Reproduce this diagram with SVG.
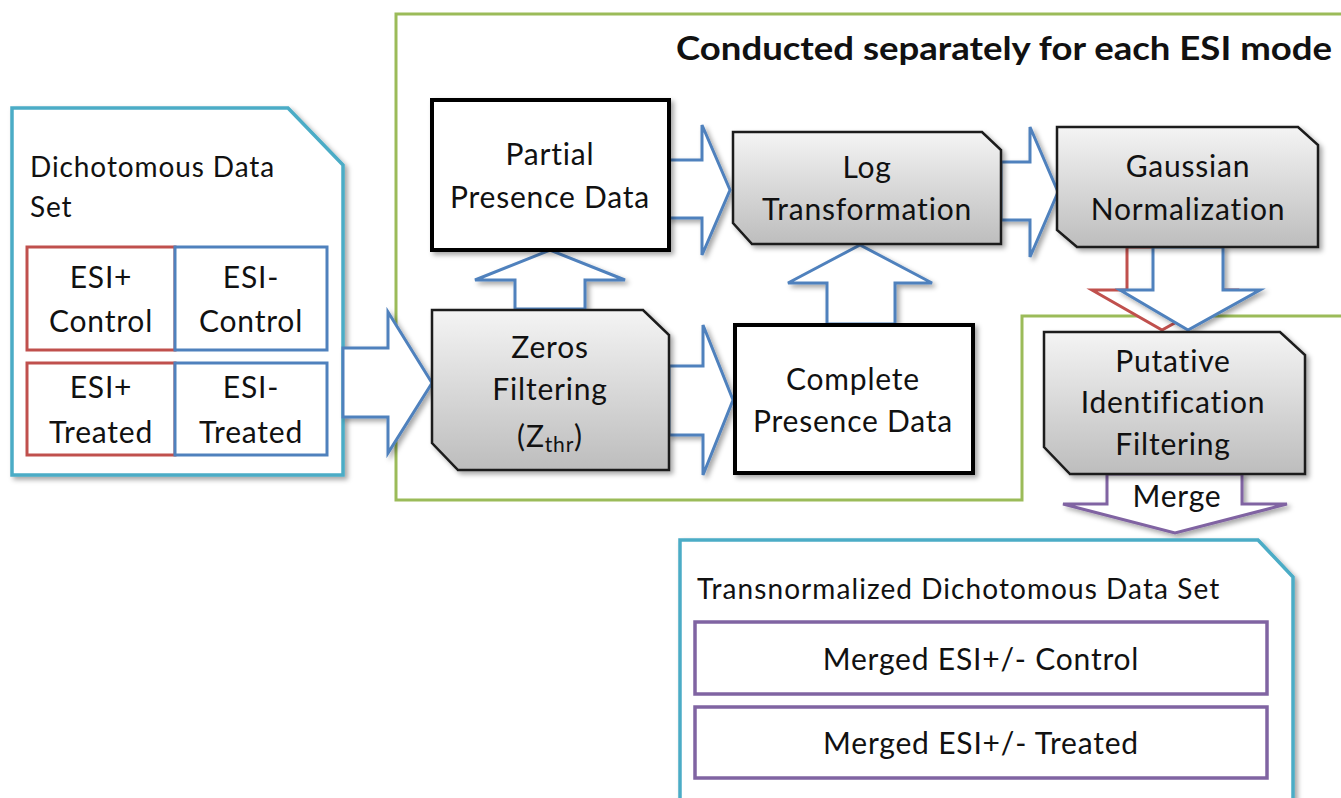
<svg xmlns="http://www.w3.org/2000/svg" width="1341" height="798" viewBox="0 0 1341 798">
<defs>
<linearGradient id="gray" x1="0" y1="0" x2="0" y2="1">
<stop offset="0" stop-color="#F4F4F4"/>
<stop offset="1" stop-color="#BDBDBD"/>
</linearGradient>
<filter id="sh" x="-10%" y="-10%" width="130%" height="130%">
<feDropShadow dx="3" dy="3" stdDeviation="2.5" flood-color="#000" flood-opacity="0.35"/>
</filter>
<style>
text{font-family:Lato,"Open Sans","Liberation Sans",sans-serif;fill:#111;}
.t{font-size:30px;letter-spacing:0.8px;text-anchor:middle;}
.l{font-size:28px;letter-spacing:0.8px;}
.g{fill:url(#gray);stroke:#1a1a1a;stroke-width:2.5;filter:url(#sh);}
.w{fill:#fff;stroke:#000;stroke-width:4;filter:url(#sh);}
.doc{fill:#fff;stroke:#4BACC6;stroke-width:3.5;filter:url(#sh);}
.ba{fill:#fff;stroke:#4F81BD;stroke-width:3;filter:url(#sh);}
.ra{fill:#fff;stroke:#C0504D;stroke-width:3;}
.pa{fill:#fff;stroke:#8064A2;stroke-width:3;filter:url(#sh);}
.rb{fill:#fff;stroke:#C0504D;stroke-width:3;}
.bb{fill:#fff;stroke:#4F81BD;stroke-width:3;}
.pb{fill:#fff;stroke:#8064A2;stroke-width:3.5;}
</style>
</defs>
<rect width="1341" height="798" fill="#fff"/>

<g id="region">
<path d="M1345,14 H396 V500 H1022 V316 H1345" fill="none" stroke="#9BBB59" stroke-width="3"/>
<text x="676" y="60" font-size="32" font-weight="bold" textLength="656" lengthAdjust="spacingAndGlyphs">Conducted separately for each ESI mode</text>
</g>

<g id="dataset">
<path class="doc" d="M12,108 H288 L343,165 V475 H12 Z"/>
<text class="l" x="30" y="177" textLength="245">Dichotomous Data</text>
<text class="l" x="30" y="217">Set</text>
<rect class="rb" x="27" y="247" width="148" height="103"/>
<rect class="bb" x="175" y="247" width="152" height="103"/>
<rect class="rb" x="27" y="363" width="148" height="92"/>
<rect class="bb" x="175" y="363" width="152" height="92"/>
<text class="t" x="101" y="288">ESI+</text>
<text class="t" x="101" y="332">Control</text>
<text class="t" x="251" y="288">ESI-</text>
<text class="t" x="251" y="332">Control</text>
<text class="t" x="101" y="398">ESI+</text>
<text class="t" x="101" y="443">Treated</text>
<text class="t" x="251" y="398">ESI-</text>
<text class="t" x="251" y="443">Treated</text>
</g>

<g id="connectors">
<polygon class="ba" points="343,348 388,348 388,312 432,383 388,453 388,417 343,417"/>
<polygon class="ba" points="669,366 703,366 703,325 733,400 703,475 703,435 669,435"/>
<polygon class="ba" points="668,160 702,160 702,125 730,190 702,255 702,218 668,218"/>
<polygon class="ba" points="1001,162 1030,162 1030,127 1058,192 1030,257 1030,220 1001,220"/>
<polygon class="ba" points="515,309 515,280 475,280 550,250 625,280 585,280 585,309"/>
<polygon class="ba" points="827,324 827,283 788,283 860,245 932,283 895,283 895,324"/>
<polygon class="ra" points="1127,247 1197,247 1197,290 1234,290 1162,330 1092,290 1127,290"/>
<polygon class="ba" points="1153,247 1223,247 1223,290 1260,290 1188,330 1120,290 1153,290"/>
<polygon class="pa" points="1107,474 1242,474 1242,504 1287,504 1175,533 1063,504 1107,504"/>
<text class="t" x="1177" y="507">Merge</text>
</g>

<g id="partial">
<rect class="w" x="432" y="100" width="237" height="150"/>
<text class="t" x="550" y="165">Partial</text>
<text class="t" x="550" y="208" textLength="200">Presence Data</text>
</g>

<g id="zeros">
<path class="g" d="M432,310 H643 L669,335 V470 H458 L432,443 Z"/>
<text class="t" x="550" y="358">Zeros</text>
<text class="t" x="550" y="400">Filtering</text>
<text class="t" x="550" y="447">(Z<tspan font-size="21" dy="5">thr</tspan><tspan dy="-5">)</tspan></text>
</g>

<g id="complete">
<rect class="w" x="735" y="325" width="238" height="148"/>
<text class="t" x="853" y="390">Complete</text>
<text class="t" x="853" y="432" textLength="200">Presence Data</text>
</g>

<g id="log">
<path class="g" d="M733,132 H982 L1001,150 V244 H752 L733,223 Z"/>
<text class="t" x="867" y="178">Log</text>
<text class="t" x="867" y="220">Transformation</text>
</g>

<g id="gaussian">
<path class="g" d="M1057,127 H1298 L1318,145 V247 H1077 L1057,230 Z"/>
<text class="t" x="1188" y="177">Gaussian</text>
<text class="t" x="1188" y="220">Normalization</text>
</g>

<g id="putative">
<path class="g" d="M1044,332 H1280 L1305,355 V474 H1070 L1044,447 Z"/>
<text class="t" x="1173" y="372">Putative</text>
<text class="t" x="1173" y="413">Identification</text>
<text class="t" x="1173" y="455">Filtering</text>
</g>

<g id="transnormalized">
<path class="doc" d="M680,540 H1258 L1293,577 V805 H680 Z"/>
<text class="l" x="697" y="599" textLength="523">Transnormalized Dichotomous Data Set</text>
<rect class="pb" x="695" y="622" width="572" height="72"/>
<rect class="pb" x="695" y="707" width="572" height="71"/>
<text class="t" x="981" y="670">Merged ESI+/- Control</text>
<text class="t" x="981" y="754">Merged ESI+/- Treated</text>
</g>
</svg>
